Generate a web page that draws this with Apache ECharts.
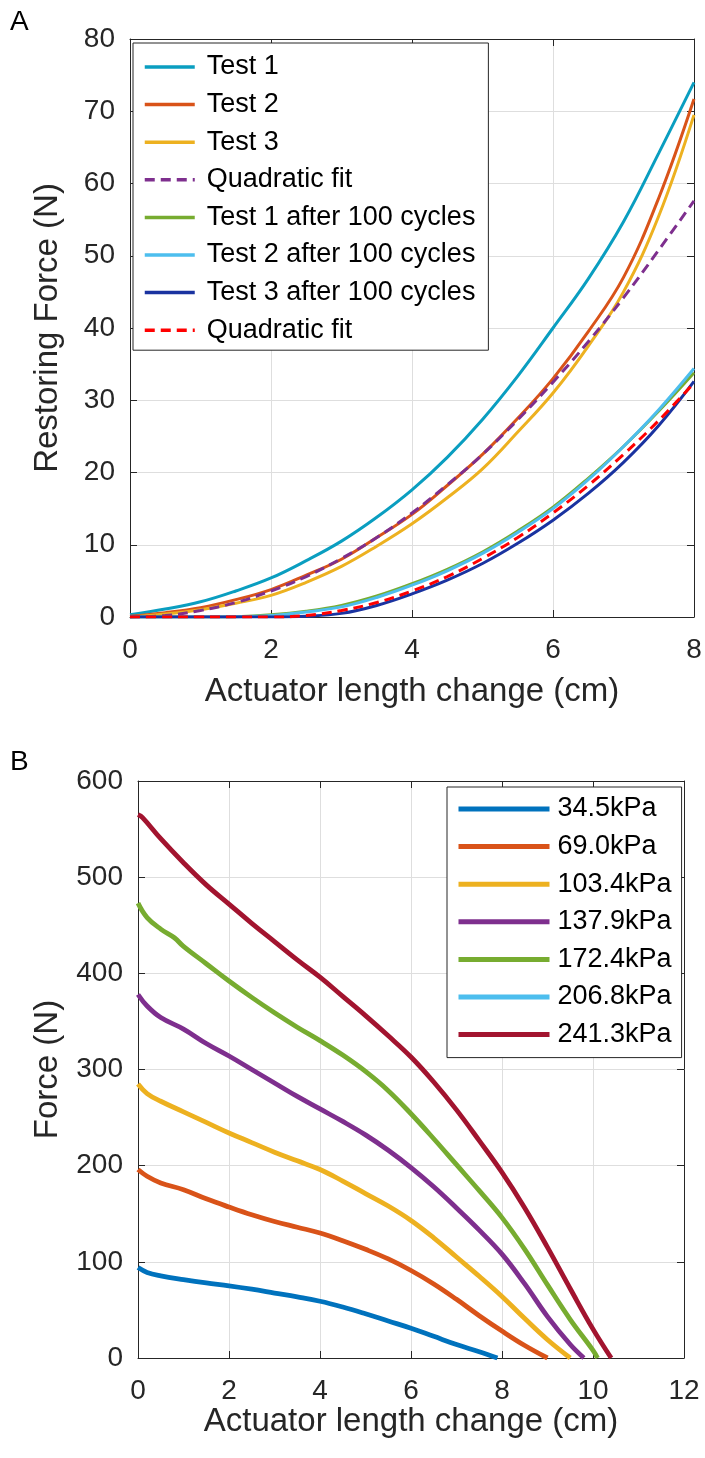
<!DOCTYPE html>
<html><head><meta charset="utf-8">
<script src="https://cdn.jsdelivr.net/npm/echarts@6/dist/echarts.min.js"></script>
<style>html,body{margin:0;padding:0;background:#fff}#c{width:705px;height:1458px}</style>
</head><body><div id="c"></div>
<script>
// ---------- Panel A data ----------
const xA = [0,0.5,1,1.5,2,2.5,3,3.5,4,4.5,5,5.5,6,6.5,7,7.5,8];
const test1 = [0.3,1.1,2.1,3.6,5.4,7.8,10.5,13.8,17.6,22.1,27.35,33.35,40.0,46.8,54.7,64.2,74.0];
const test2 = [0.1,0.6,1.3,2.4,3.8,5.8,8.0,11.0,14.2,18.2,22.5,27.5,33.0,39.5,47.0,58.0,71.7];
const test3 = [0.0,0.4,1.0,1.9,3.0,4.8,7.0,9.8,12.9,16.5,20.5,25.6,31.0,37.5,45.0,55.5,69.5];
const fitA1 = [0.0,0.2,0.9,2.0,3.6,5.6,8.1,11.0,14.4,18.3,22.5,27.3,32.5,38.1,44.2,50.8,57.6];
const test1After = [0,0,0,0.05,0.3,0.8,1.6,2.9,4.6,6.6,9.0,11.9,15.2,19.2,23.6,28.5,33.8];
const test2After = [0,0,0,0.03,0.2,0.7,1.4,2.7,4.4,6.4,8.8,11.7,15.0,19.0,23.6,28.7,34.4];
const test3After = [0,0,0,0,0,0.1,0.5,1.6,3.2,5.1,7.4,10.2,13.4,17.1,21.4,26.5,32.6];
const fitA2 = [0,0,0,0,0,0.2,0.9,2.0,3.6,5.6,8.1,11.0,14.4,18.2,22.5,27.2,32.4];
const namesA = ['Test 1','Test 2','Test 3','Quadratic fit','Test 1 after 100 cycles','Test 2 after 100 cycles','Test 3 after 100 cycles','Quadratic fit '];
const xTicksA = {min:0,max:8,interval:2};
const yTicksA = {min:0,max:80,interval:10};

// ---------- Panel B data ----------
const xB345 = [0,0.2,0.5,1,1.5,2,2.5,3,3.5,4,4.5,5,5.5,6,6.5,7,7.5,7.9];
const yB345 = [94,89,85.5,81.5,78,75,71.5,67.5,63.5,59,53,46,38.5,31,22.5,14,6.5,0];
const xB690 = [0,0.2,0.5,1,1.5,2,2.5,3,3.5,4,4.5,5,5.5,6,6.5,7,7.5,8,8.5,9];
const yB690 = [196,189,182,175,165.5,157,149,142,136,130,122,113,103,91,77,61,44,28,13,0];
const xB1034 = [0,0.2,0.5,1,1.5,2,2.5,3,3.5,4,4.5,5,5.5,6,6.5,7,7.5,8,8.5,9,9.5];
const yB1034 = [285,275,267,256,245,234,224,214,205,196,184,171,158,143,125,105,85,64,41,19,0];
const xB1379 = [0,0.2,0.5,1,1.5,2,2.5,3,3.5,4,4.5,5,5.5,6,6.5,7,7.5,8,8.5,9,9.5,9.8];
const yB1379 = [378,366,354,342,327,314,300,286,272,259,246,232,216,198,178,156,133,108,77,43,14,0];
const xB1724 = [0,0.2,0.5,0.8,1,1.5,2,2.5,3,3.5,4,4.5,5,5.5,6,6.5,7,7.5,8,8.5,9,9.5,10,10.1];
const yB1724 = [473,458,446,437,428,410,392,375,359,344,330,315,298,278,254,228,201,174,146,113,76,40,8,0];
const xB2068 = [];
const yB2068 = [];
const xB2413 = [0,0.1,0.5,1,1.5,2,2.5,3,3.5,4,4.5,5,5.5,6,6.5,7,7.5,8,8.5,9,9.5,10,10.4];
const yB2413 = [565,562,540,515,492,472,452,433,414,396,376,356,335,313,287,258,226,193,156,115,72,30,0];
const namesB = ['34.5kPa','69.0kPa','103.4kPa','137.9kPa','172.4kPa','206.8kPa','241.3kPa'];
const xTicksB = {min:0,max:12,interval:2};
const yTicksB = {min:0,max:600,interval:100};

// ---------- styling ----------
const FONT = '"Liberation Sans", Arial, Helvetica, sans-serif';
const INK = '#262626';
const GRIDC = '#dedede';
const colorsA = ['#0a9ec0','#d95319','#edb120','#7e2f8e','#77ac30','#4dbeee','#1a33a0','#ff0000'];
const dashedA = [false,false,false,true,false,false,false,true];
const colorsB = ['#0072bd','#d95319','#edb120','#7e2f8e','#77ac30','#4dbeee','#a2142f'];

const pair = (xs, ys) => xs.map((x, i) => [x, ys[i]]);
const seriesA = [test1,test2,test3,fitA1,test1After,test2After,test3After,fitA2];
const seriesBx = [xB345,xB690,xB1034,xB1379,xB1724,xB2068,xB2413];
const seriesBy = [yB345,yB690,yB1034,yB1379,yB1724,yB2068,yB2413];

function mainX(grid, t, name, gap){
  return {type:'value', gridIndex:grid, position:'bottom', min:t.min, max:t.max, interval:t.interval,
    name:name, nameLocation:'middle', nameGap:gap,
    nameTextStyle:{fontFamily:FONT,fontSize:33,color:INK},
    axisLine:{show:true,onZero:false,lineStyle:{color:INK,width:1}},
    axisTick:{show:true,inside:true,length:7,lineStyle:{color:INK}},
    axisLabel:{fontFamily:FONT,fontSize:28,color:INK,margin:19},
    splitLine:{show:true,lineStyle:{color:GRIDC,width:1}}};
}
function sideX(grid, t){
  return {type:'value', gridIndex:grid, position:'top', min:t.min, max:t.max, interval:t.interval,
    axisLine:{show:true,onZero:false,lineStyle:{color:INK,width:1}},
    axisTick:{show:true,inside:true,length:7,lineStyle:{color:INK}},
    axisLabel:{show:false}, splitLine:{show:false}};
}
function mainY(grid, t, name, gap){
  return {type:'value', gridIndex:grid, position:'left', min:t.min, max:t.max, interval:t.interval,
    name:name, nameLocation:'middle', nameGap:gap, nameRotate:90,
    nameTextStyle:{fontFamily:FONT,fontSize:33,color:INK},
    axisLine:{show:true,onZero:false,lineStyle:{color:INK,width:1}},
    axisTick:{show:true,inside:true,length:7,lineStyle:{color:INK}},
    axisLabel:{fontFamily:FONT,fontSize:28,color:INK,margin:15},
    splitLine:{show:true,lineStyle:{color:GRIDC,width:1}}};
}
function sideY(grid, t){
  return {type:'value', gridIndex:grid, position:'right', min:t.min, max:t.max, interval:t.interval,
    axisLine:{show:true,onZero:false,lineStyle:{color:INK,width:1}},
    axisTick:{show:true,inside:true,length:7,lineStyle:{color:INK}},
    axisLabel:{show:false}, splitLine:{show:false}};
}

const series = [];
seriesA.forEach((ys, i) => {
  series.push({name:namesA[i], type:'line', xAxisIndex:0, yAxisIndex:0,
    data:pair(xA, ys), showSymbol:false, symbol:'none', smooth:0.4,
    lineStyle:{color:colorsA[i], width:3, type: dashedA[i] ? [10,6] : 'solid'},
    itemStyle:{color:colorsA[i]}, z: 3});
});
seriesBx.forEach((xs, i) => {
  series.push({name:namesB[i], type:'line', xAxisIndex:2, yAxisIndex:2,
    data:pair(xs, seriesBy[i]), showSymbol:false, symbol:'none', smooth:0.4,
    lineStyle:{color:colorsB[i], width:4.8}, itemStyle:{color:colorsB[i]}, z:3});
});

const option = {
  backgroundColor:'#ffffff',
  animation:false,
  textStyle:{fontFamily:FONT},
  grid:[
    {left:130, right:11, top:39, height:578, containLabel:false},
    {left:138, right:21, top:781, height:577, containLabel:false}
  ],
  xAxis:[mainX(0,xTicksA,'Actuator length change (cm)',58), sideX(0,xTicksA),
         mainX(1,xTicksB,'Actuator length change (cm)',42), sideX(1,xTicksB)],
  yAxis:[mainY(0,yTicksA,'Restoring Force (N)',66), sideY(0,yTicksA),
         mainY(1,yTicksB,'Force (N)',74), sideY(1,yTicksB)],
  legend:[
    {data:namesA, orient:'vertical', left:133, top:43, itemWidth:50, itemHeight:4, itemGap:9.6,
     padding:[10,13,6,10], backgroundColor:'#fff', borderColor:INK, borderWidth:1,
     selectedMode:false, itemStyle:{opacity:0}, lineStyle:{width:3.5},
     textStyle:{fontFamily:FONT,fontSize:27,color:'#000',lineHeight:28,padding:[0,0,0,7]}},
    {data:namesB, orient:'vertical', left:447, top:787, itemWidth:91, itemHeight:4, itemGap:9.6,
     padding:[8,10,9,9], backgroundColor:'#fff', borderColor:INK, borderWidth:1,
     selectedMode:false, itemStyle:{opacity:0}, lineStyle:{width:5},
     textStyle:{fontFamily:FONT,fontSize:27,color:'#000',lineHeight:28,padding:[0,0,0,3]}}
  ],
  graphic:[
    {type:'text', left:10, top:8, style:{text:'A', font:'28px '+FONT, fill:'#000'}},
    {type:'text', left:10, top:748, style:{text:'B', font:'28px '+FONT, fill:'#000'}}
  ],
  series: series
};
const chart = echarts.init(document.getElementById('c'), null, {renderer:'canvas'});
chart.setOption(option);
</script>
</body></html>
